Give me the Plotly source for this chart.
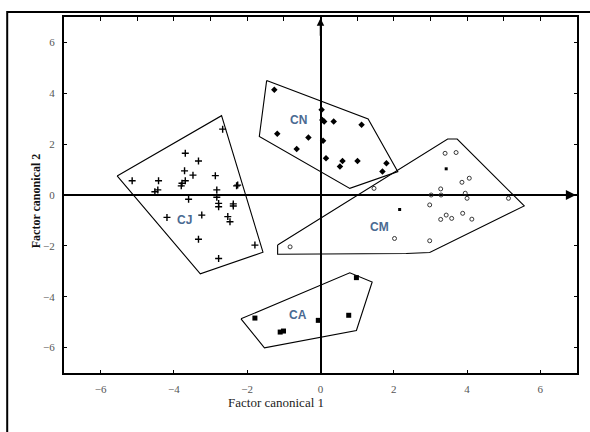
import plotly.graph_objects as go

# ---- data ----
cj_x = [-2.67, -3.69, -3.33, -3.71, -3.48, -2.87, -5.14, -4.42, -3.69, -3.80, -2.29,
        -4.44, -4.52, -2.83, -3.60, -2.83, -2.78, -2.38, -3.24, -4.19, -2.53, -2.47,
        -3.33, -1.79, -2.78, -3.78, -2.26, -2.78, -2.38]
cj_y = [2.59, 1.64, 1.34, 0.95, 0.78, 0.76, 0.56, 0.56, 0.56, 0.36, 0.36,
        0.20, 0.13, 0.20, -0.17, -0.09, -0.46, -0.43, -0.79, -0.88, -0.85, -1.05,
        -1.74, -1.97, -2.50, 0.46, 0.39, -0.33, -0.35]

cn_x = [-1.26, 0.03, 0.10, 0.36, 1.12, -1.18, -0.33, 0.07, -0.65, 0.15, 0.60, 0.53, 1.01, 1.80, 1.69, 0.05]
cn_y = [4.14, 3.35, 2.89, 2.89, 2.76, 2.41, 2.26, 2.13, 1.81, 1.45, 1.34, 1.12, 1.34, 1.25, 0.92, 2.95]

cm_x = [3.40, 3.70, 3.86, 4.06, 3.28, 3.02, 3.29, 3.95, 4.00, 5.13, 2.98, 3.28, 3.43,
        3.58, 3.88, 4.13, 2.98, 2.02, -0.83, 1.46]
cm_y = [1.64, 1.67, 0.50, 0.66, 0.24, 0.00, 0.00, 0.07, -0.13, -0.13, -0.39, -0.96, -0.79,
        -0.92, -0.72, -0.95, -1.80, -1.71, -2.04, 0.26]
cm_fx = [3.43, 2.16]
cm_fy = [1.03, -0.57]

ca_x = [0.98, -1.79, -1.10, -1.01, -0.06, 0.77]
ca_y = [-3.25, -4.84, -5.39, -5.35, -4.93, -4.73]

# hull polygons
cj_hx = [-5.55, -2.70, -1.57, -3.28, -5.55]
cj_hy = [0.75, 3.12, -2.25, -3.10, 0.75]
cn_hx = [-1.47, 1.30, 2.11, 0.80, -1.67, -1.47]
cn_hy = [4.50, 2.99, 0.92, 0.26, 2.30, 4.50]
cm_hx = [-1.17, 3.47, 3.73, 5.56, 2.98, 2.34, -1.17, -1.17]
cm_hy = [-1.97, 2.20, 2.20, -0.43, -2.26, -2.30, -2.33, -1.97]
ca_hx = [-2.17, 0.80, 1.41, 0.98, -1.53, -2.17]
ca_hy = [-4.87, -3.06, -3.42, -5.33, -6.01, -4.87]

group_names = ["CJ", "CN", "CM", "CA"]
label_x = [-3.71, -0.61, 1.60, -0.61]
label_y = [-0.99, 2.96, -1.27, -4.73]

x_ticks = [-6, -4, -2, 0, 2, 4, 6]
y_ticks = [-6, -4, -2, 0, 2, 4, 6]
x_title = "Factor canonical 1"
y_title = "Factor canonical 2"

fig = go.Figure()

for hx, hy in [(cj_hx, cj_hy), (cn_hx, cn_hy), (cm_hx, cm_hy), (ca_hx, ca_hy)]:
    fig.add_trace(go.Scatter(x=hx, y=hy, mode="lines",
                             line=dict(color="black", width=1.1), hoverinfo="skip"))

fig.add_trace(go.Scatter(x=cj_x, y=cj_y, mode="markers",
                         marker=dict(symbol="cross-thin", size=5, color="black",
                                     line=dict(color="black", width=1.4))))
fig.add_trace(go.Scatter(x=cn_x, y=cn_y, mode="markers",
                         marker=dict(symbol="diamond", size=5, color="black")))
fig.add_trace(go.Scatter(x=cm_x, y=cm_y, mode="markers",
                         marker=dict(symbol="circle-open", size=4, color="#222",
                                     line=dict(width=0.9))))
fig.add_trace(go.Scatter(x=cm_fx, y=cm_fy, mode="markers",
                         marker=dict(symbol="square", size=3, color="black")))
fig.add_trace(go.Scatter(x=ca_x, y=ca_y, mode="markers",
                         marker=dict(symbol="square", size=5, color="black")))
# dummy trace for top tick axis
fig.add_trace(go.Scatter(x=[], y=[], xaxis="x2", mode="markers", hoverinfo="skip"))

for name, lx, ly in zip(group_names, label_x, label_y):
    fig.add_annotation(x=lx, y=ly, text="<b>%s</b>" % name, showarrow=False,
                       font=dict(family="Liberation Sans", size=12, color="#4a6a92"))

# axis arrows
fig.add_annotation(x=0, y=6.95, ax=0, ay=6.2, axref="x", ayref="y", text="",
                   showarrow=True, arrowhead=2, arrowsize=1, arrowwidth=1.5, arrowcolor="black")
fig.add_annotation(x=6.97, y=0, ax=6.3, ay=0, axref="x", ayref="y", text="",
                   showarrow=True, arrowhead=2, arrowsize=1, arrowwidth=2, arrowcolor="black")

# axis titles
fig.add_annotation(xref="paper", yref="paper", x=0.4136, y=-0.1096, text=x_title,
                   showarrow=False, font=dict(family="Liberation Serif", size=13, color="#222"))
fig.add_annotation(xref="paper", yref="paper", x=-0.0718, y=0.483, text="<b>%s</b>" % y_title,
                   textangle=-90, showarrow=False,
                   font=dict(family="Liberation Serif", size=12, color="#111"))

# outer frame
fig.add_shape(type="rect", xref="paper", yref="paper", x0=-0.1107, x1=1.03, y0=-0.25, y1=1.014,
              line=dict(color="black", width=2))

tickfont = dict(family="Liberation Serif", size=11, color="#555")
fig.update_layout(
    width=590, height=432,
    margin=dict(l=64, r=11, t=17, b=59),
    paper_bgcolor="white", plot_bgcolor="white",
    showlegend=False,
    xaxis=dict(range=[-7, 7], tickvals=x_ticks, ticks="inside", ticklen=3, tickcolor="black",
               showline=True, linecolor="black", linewidth=2, mirror=True,
               showgrid=False, zeroline=True, zerolinecolor="black", zerolinewidth=1.5,
               tickfont=tickfont, ticklabelstandoff=5),
    xaxis2=dict(range=[-7, 7], overlaying="x", side="top", dtick=1, tick0=0,
                ticks="inside", ticklen=4, tickcolor="black", showticklabels=False,
                showgrid=False, zeroline=False, showline=False),
    yaxis=dict(range=[-7, 7], tickvals=y_ticks, ticks="inside", ticklen=3, tickcolor="black",
               showline=True, linecolor="black", linewidth=2, mirror="ticks",
               showgrid=False, zeroline=True, zerolinecolor="black", zerolinewidth=1.5,
               tickfont=tickfont, ticklabelstandoff=5),
)

fig.write_html("out.html", config={"displayModeBar": False},
               post_script="document.body.style.margin='0';document.body.style.overflow='hidden';")
